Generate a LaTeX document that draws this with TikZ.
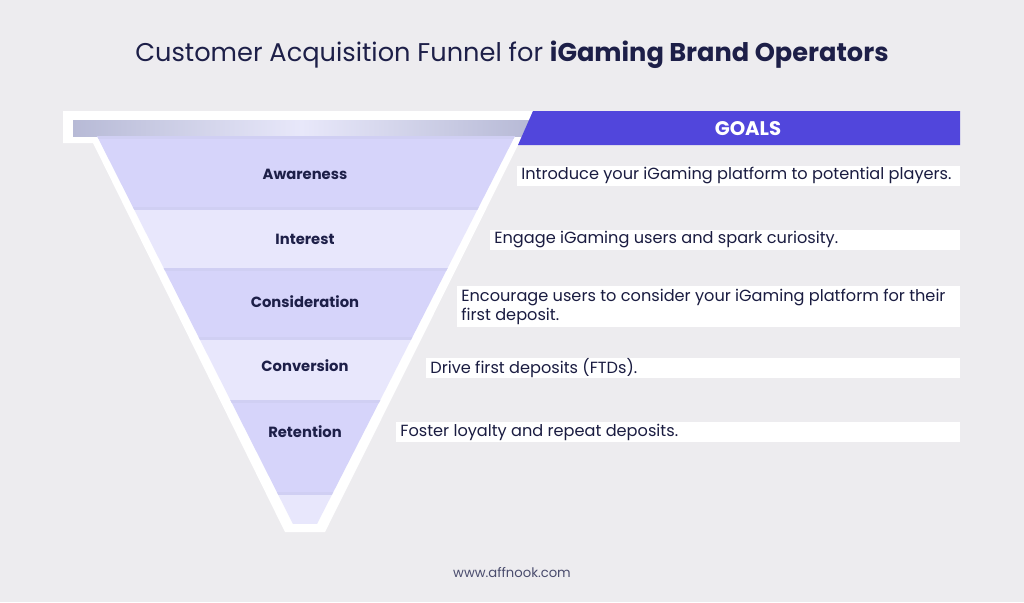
\documentclass[tikz,border=0pt]{standalone}
\usepackage{fontspec}
\setmainfont{Poppins}
\usetikzlibrary{positioning}
\definecolor{bg}{HTML}{EDECEF}
\definecolor{navy}{HTML}{1D1F48}
\definecolor{goalblue}{HTML}{5146DC}
\definecolor{bandD}{HTML}{D6D4FA}
\definecolor{bandL}{HTML}{E8E7FC}
\definecolor{rimA}{HTML}{B7BAD6}
\definecolor{rimB}{HTML}{E8E8FA}
\tikzset{
  stagelabel/.style={font=\bfseries\fontsize{8.4}{10}\selectfont, text=navy},
  goaltext/.style={anchor=west, inner sep=0pt, font=\fontsize{9.2}{10.8}\selectfont, text=navy!90!black, align=left},
  goalrow/.style={fill=white},
}
\newcommand{\goal}[5]{%
  \fill[goalrow] (#2,#3) rectangle (960,#4);
  \node[goaltext] (#1) at (#2+4,{(#3+#4)/2}) {#5};
}
\begin{document}
\begin{tikzpicture}[x=0.02cm,y=-0.02cm]
      \fill[bg] (0,0) rectangle (1024,602);
      \node[font=\fontsize{14.6}{17}\selectfont, text=navy] (title) at (512,55) {Customer Acquisition Funnel for \textbf{iGaming Brand Operators}};
      \fill[white] (63,111) -- (535,111) -- (325,532) -- (285,532) -- (93,143) -- (63,143) -- cycle;
      \shade[left color=rimA, right color=rimA, middle color=rimB] (73,120) rectangle (530,136);
      \begin{scope}
        \clip (97,136) -- (515,136) -- (317,524) -- (293,524) -- cycle;
        \fill[bandD] (0,136) rectangle (600,207);
        \fill[bandL] (0,207) rectangle (600,268);
        \fill[bandD] (0,268) rectangle (600,337);
        \fill[bandL] (0,337) rectangle (600,400);
        \fill[bandD] (0,400) rectangle (600,492);
        \fill[bandL] (0,492) rectangle (600,524);
        \foreach \y in {136,207,268,337,400,492}
          \fill[bandD!80!rimA] (0,\y) rectangle (600,\y+2.5);
      \end{scope}
      \fill[goalblue] (533,111) -- (960,111) -- (960,145) -- (518,145) -- cycle;
      \node[font=\bfseries\fontsize{11.2}{13}\selectfont, text=white] (goals) at (748,129) {GOALS};
      \node[stagelabel] (awareness) at (305,174) {Awareness};
      \node[stagelabel] (interest) at (305,239) {Interest};
      \node[stagelabel] (consideration) at (305,302) {Consideration};
      \node[stagelabel] (conversion) at (305,366) {Conversion};
      \node[stagelabel] (retention) at (305,432) {Retention};
      \goal{g1}{517}{166}{186}{Introduce your iGaming platform to potential players.}
      \goal{g2}{490}{230}{250}{Engage iGaming users and spark curiosity.}
      \goal{g3}{457}{286}{327}{Encourage users to consider your iGaming platform for their\\first deposit.}
      \goal{g4}{426}{358}{378}{Drive first deposits (FTDs).}
      \goal{g5}{396}{422}{442}{Foster loyalty and repeat deposits.}
      \node[font=\fontsize{7.5}{9}\selectfont, text=navy!80] (site) at (512,573) {www.affnook.com};
    \end{tikzpicture}
\end{document}
